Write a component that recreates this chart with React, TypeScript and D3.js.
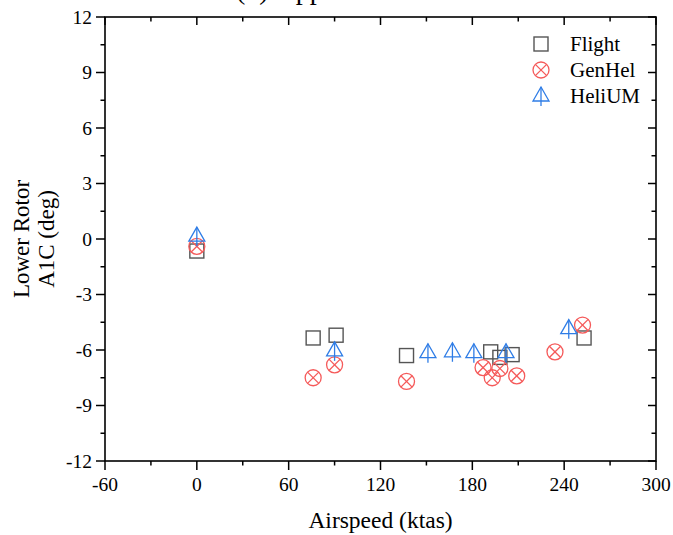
import React from 'react'
import { scaleLinear, range } from 'd3'

// Flight test data
const flightX = [0, 76, 91, 137, 192, 198, 206, 253]
const flightY = [-0.65, -5.35, -5.2, -6.3, -6.1, -6.4, -6.25, -5.35]

// GenHel simulation
const genhelX = [0, 76, 90, 137, 187, 193, 198, 209, 234, 252]
const genhelY = [-0.4, -7.5, -6.8, -7.7, -6.95, -7.5, -7.0, -7.4, -6.1, -4.65]

// HeliUM simulation
const heliumX = [0, 90, 151, 167, 181, 202, 243]
const heliumY = [0.1, -6.1, -6.2, -6.15, -6.2, -6.2, -4.9]

const xTicks = [-60, 0, 60, 120, 180, 240, 300]
const yTicks = [-12, -9, -6, -3, 0, 3, 6, 9, 12]

const W = 673
const H = 535
const margin = { left: 105, right: 17, top: 17, bottom: 74 }

const FONT = "'Liberation Serif', 'Times New Roman', serif"
const GRAY = '#555'
const RED = '#f55a5a'
const BLUE = '#2f7de6'

const Square = ({ x, y }: { x: number; y: number }) => (
  <rect x={x - 7} y={y - 7} width={14} height={14} fill="none" stroke={GRAY} strokeWidth={1.4} />
)

const CircleX = ({ x, y }: { x: number; y: number }) => {
  const r = 8
  const d = r * Math.SQRT1_2
  return (
    <g stroke={RED} strokeWidth={1.3} fill="none">
      <circle cx={x} cy={y} r={r} />
      <line x1={x - d} y1={y - d} x2={x + d} y2={y + d} />
      <line x1={x - d} y1={y + d} x2={x + d} y2={y - d} />
    </g>
  )
}

const Tri = ({ x, y }: { x: number; y: number }) => (
  <g stroke={BLUE} strokeWidth={1.3} fill="none">
    <path d={`M${x},${y - 10} L${x + 8},${y + 4} L${x - 8},${y + 4} Z`} />
    <line x1={x} y1={y - 10} x2={x} y2={y + 9} />
  </g>
)

export default function App() {
  const xScale = scaleLinear().domain([-60, 300]).range([margin.left, W - margin.right])
  const yScale = scaleLinear().domain([-12, 12]).range([H - margin.bottom, margin.top])

  const x0 = xScale(-60)
  const x1 = xScale(300)
  const y0 = yScale(-12)
  const y1 = yScale(12)

  const xMinor = range(-30, 300, 60)
  const yMinor = range(-10.5, 12, 3)

  return (
    <svg width={W} height={H} style={{ position: 'absolute', left: 0, top: 0 }} fontFamily={FONT}>
      <rect width={W} height={H} fill="#fff" />
      {/* title, cut by the top edge as in the source figure */}
      <text x={236} y={-1} fontSize={28}>(b) Upper Rotor A1C</text>

      {/* frame */}
      <rect x={x0} y={y1} width={x1 - x0} height={y0 - y1} fill="none" stroke="#000" strokeWidth={1.6} />

      {/* bottom / top ticks */}
      {xTicks.map(t => (
        <g key={'xt' + t}>
          <line x1={xScale(t)} x2={xScale(t)} y1={y0} y2={y0 + 9} stroke="#000" strokeWidth={1.5} />
          <line x1={xScale(t)} x2={xScale(t)} y1={y1} y2={y1 + 8} stroke="#000" strokeWidth={1.5} />
          <text x={xScale(t)} y={y0 + 30} textAnchor="middle" fontSize={19.5}>{t}</text>
        </g>
      ))}
      {xMinor.map(t => (
        <g key={'xm' + t}>
          <line x1={xScale(t)} x2={xScale(t)} y1={y0} y2={y0 + 4.5} stroke="#000" strokeWidth={1.5} />
          <line x1={xScale(t)} x2={xScale(t)} y1={y1} y2={y1 + 4.5} stroke="#000" strokeWidth={1.5} />
        </g>
      ))}

      {/* left / right ticks */}
      {yTicks.map(t => (
        <g key={'yt' + t}>
          <line x1={x0 - 9} x2={x0} y1={yScale(t)} y2={yScale(t)} stroke="#000" strokeWidth={1.5} />
          <line x1={x1 - 8} x2={x1} y1={yScale(t)} y2={yScale(t)} stroke="#000" strokeWidth={1.5} />
          <text x={x0 - 13} y={yScale(t) + 6.5} textAnchor="end" fontSize={19.5}>{t}</text>
        </g>
      ))}
      {yMinor.map(t => (
        <g key={'ym' + t}>
          <line x1={x0 - 4.5} x2={x0} y1={yScale(t)} y2={yScale(t)} stroke="#000" strokeWidth={1.5} />
          <line x1={x1 - 4.5} x2={x1} y1={yScale(t)} y2={yScale(t)} stroke="#000" strokeWidth={1.5} />
        </g>
      ))}

      {/* axis titles */}
      <text x={(x0 + x1) / 2} y={528} textAnchor="middle" fontSize={23.5}>Airspeed (ktas)</text>
      <g transform={`translate(29, ${(y0 + y1) / 2}) rotate(-90)`}>
        <text x={0} y={0} textAnchor="middle" fontSize={23}>Lower Rotor</text>
        <text x={0} y={25} textAnchor="middle" fontSize={23}>A1C (deg)</text>
      </g>

      {/* data */}
      {flightX.map((v, i) => <Square key={'f' + i} x={xScale(v)} y={yScale(flightY[i])} />)}
      {genhelX.map((v, i) => <CircleX key={'g' + i} x={xScale(v)} y={yScale(genhelY[i])} />)}
      {heliumX.map((v, i) => <Tri key={'h' + i} x={xScale(v)} y={yScale(heliumY[i])} />)}

      {/* legend */}
      <Square x={541} y={44} />
      <text x={570} y={51} fontSize={21}>Flight</text>
      <CircleX x={541} y={70} />
      <text x={570} y={77} fontSize={21}>GenHel</text>
      <Tri x={541} y={97} />
      <text x={570} y={103} fontSize={21}>HeliUM</text>
    </svg>
  )
}
